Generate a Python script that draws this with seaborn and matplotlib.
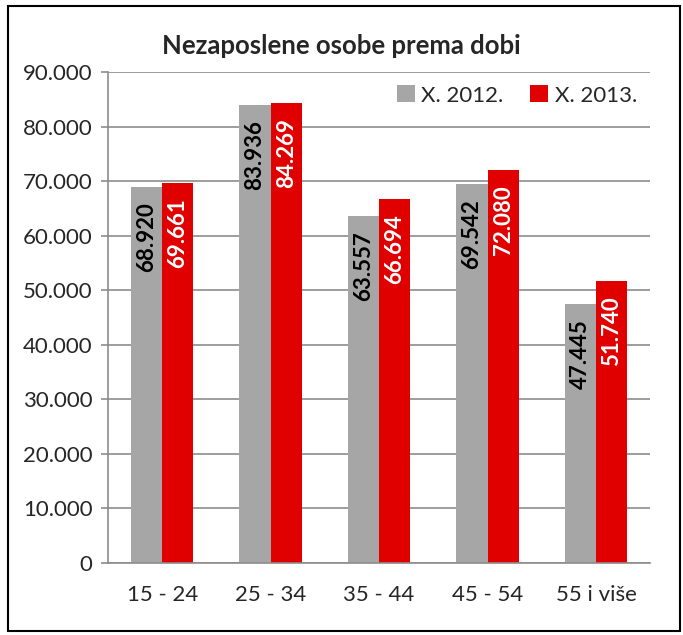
import pandas as pd
import matplotlib.pyplot as plt
import seaborn as sns
from matplotlib.patches import Rectangle
from matplotlib.ticker import FuncFormatter

# podaci
dobne_skupine = ["15 - 24", "25 - 34", "35 - 44", "45 - 54", "55 i više"]
god_2012 = [68920, 83936, 63557, 69542, 47445]
god_2013 = [69661, 84269, 66694, 72080, 51740]
serije = ["X. 2012.", "X. 2013."]

df = pd.DataFrame({
    "dob": dobne_skupine * 2,
    "broj": god_2012 + god_2013,
    "serija": [serije[0]] * 5 + [serije[1]] * 5,
})

sns.set_style("white")
plt.rcParams["font.family"] = ["Lato", "DejaVu Sans"]

fig = plt.figure(figsize=(6.83, 6.35), dpi=100)
ax = fig.add_axes([0.158, 0.1134, 0.794, 0.7732])

sns.barplot(data=df, x="dob", y="broj", hue="serija",
            palette=["#a6a6a6", "#e00000"], width=0.575, gap=0,
            saturation=1, linewidth=0, ax=ax)

ax.set_ylim(0, 90000)
ax.set_xlim(-0.5, 4.5)
ax.set_yticks(range(0, 90001, 10000))
ax.yaxis.set_major_formatter(FuncFormatter(lambda v, p: f"{int(v):,}".replace(",", ".")))
ax.grid(True, axis="y", color="#8c8c8c", linewidth=1.2)
ax.set_axisbelow(True)

# kategorije: oznake u sredini, crtice na granicama
ax.set_xticks([i - 0.5 for i in range(6)])
ax.set_xticklabels([])
ax.set_xticks(range(5), minor=True)
ax.set_xticklabels(dobne_skupine, minor=True, fontsize=16)
ax.tick_params(axis="x", which="major", length=6, color="#8c8c8c", width=1.2)
ax.tick_params(axis="x", which="minor", length=0, pad=16)
ax.tick_params(axis="y", length=5, color="#8c8c8c", width=1.2, labelsize=16, left=True, pad=6)

for s in ["top", "right"]:
    ax.spines[s].set_visible(False)
for s in ["left", "bottom"]:
    ax.spines[s].set_color("#8c8c8c")
    ax.spines[s].set_linewidth(1.2)

ax.set_xlabel("")
ax.set_ylabel("")

# vrijednosti na stupcima
for cont, boja in zip(ax.containers, ["black", "white"]):
    for bar in cont:
        v = bar.get_height()
        ax.annotate(f"{int(v):,}".replace(",", "."),
                    (bar.get_x() + bar.get_width() / 2, v),
                    xytext=(0, -11), textcoords="offset points",
                    rotation=90, ha="center", va="top",
                    fontsize=16, fontweight="bold", color=boja)

ax.legend(loc="upper right", bbox_to_anchor=(1.0, 1.0), ncol=2, frameon=False,
          fontsize=16, handlelength=0.8, handleheight=0.8, handletextpad=0.3,
          columnspacing=1.2, borderaxespad=0.2)

fig.text(0.5, 0.9276, "Nezaposlene osobe prema dobi", ha="center", va="center",
         fontsize=18.5, fontweight="bold")

fig.patches.append(Rectangle((0.012, 0.006), 0.983, 0.984, transform=fig.transFigure,
                             fill=False, edgecolor="black", linewidth=1.5))

plt.savefig("out.png", dpi=100)
